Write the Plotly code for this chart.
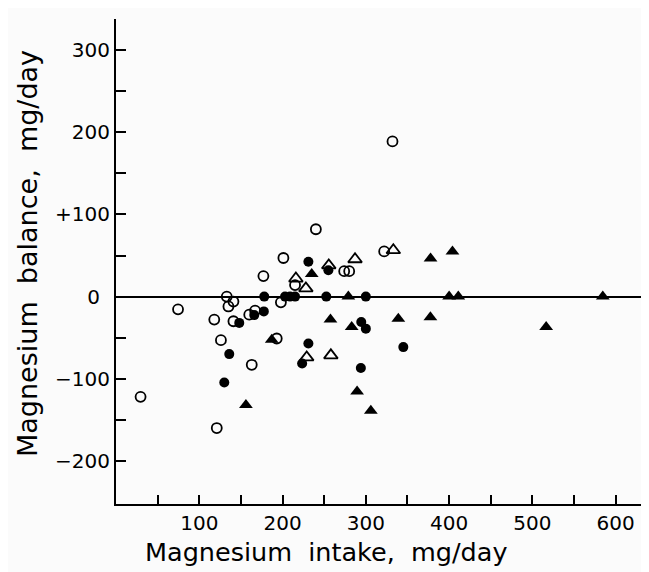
import plotly.graph_objects as go

# Open circles
oc_x = [332, 240, 201, 177, 274, 280, 322, 215, 133, 141, 135, 198, 74.5, 118, 126, 141, 160, 167, 193, 163, 29.5, 121]
oc_y = [189, 82, 47, 25, 31, 31, 55, 14, 0, -6, -12, -7, -15.5, -28, -53, -30, -22, -17, -51, -83, -122, -160]

# Filled circles
fc_x = [231, 255, 178, 203, 209, 215, 252.5, 300, 136, 130, 148, 166, 177.5, 231, 223.5, 294.5, 300, 294, 345]
fc_y = [42.5, 32, 0, 0, 0, 0, 0, 0, -70, -104.5, -32, -22.5, -18, -57, -81.5, -31, -39, -87, -61.5]

# Open triangles
ot_x = [255.5, 216, 228, 287, 333, 229, 258]
ot_y = [38, 22, 10, 45.5, 56.5, -74, -71.5]

# Filled triangles
ft_x = [235, 377.7, 404, 279, 400, 411, 584.5, 156, 187, 257.5, 283, 289.5, 306, 339, 377.5, 516.5]
ft_y = [27.5, 46.5, 55, 0, 0, 0, 0, -132, -52.5, -28, -37, -115.5, -139, -27, -25, -37]

x_tickvals = [50, 100, 150, 200, 250, 300, 350, 400, 450, 500, 550, 600]
x_ticktext = ["", "100", "", "200", "", "300", "", "400", "", "500", "", "600"]
y_tickvals = [-200, -150, -100, -50, 0, 50, 100, 150, 200, 250, 300]
y_ticktext = ["\u2212200", "", "\u2212100", "", "0\u2002", "", "+100", "", "200", "", "300"]

FONT = "DejaVu Sans"

fig = go.Figure()
fig.add_trace(go.Scatter(x=fc_x, y=fc_y, mode="markers",
                         marker=dict(symbol="circle", size=10, color="black")))
fig.add_trace(go.Scatter(x=ft_x, y=ft_y, mode="markers",
                         marker=dict(symbol="triangle-up", size=12, color="black")))
fig.add_trace(go.Scatter(x=oc_x, y=oc_y, mode="markers",
                         marker=dict(symbol="circle-open", size=10, color="black",
                                     line=dict(width=1.8))))
fig.add_trace(go.Scatter(x=ot_x, y=ot_y, mode="markers",
                         marker=dict(symbol="triangle-up-open", size=12, color="black",
                                     line=dict(width=1.8))))

# page has an 8px body margin; figure origin is at (8, 8)
OFF = 8
W, H = 649 - OFF, 572 - OFF
L, R, T, B = 116 - OFF, 0, 19 - OFF, 68
pw = W - L - R
ph = H - T - B

def px_to_paper_x(px):
    return (px - OFF - L) / pw

def px_to_paper_y(py):
    return 1 - (py - OFF - T) / ph

fig.update_layout(
    width=W, height=H,
    margin=dict(l=L, r=R, t=T, b=B),
    paper_bgcolor="#fbfbfb", plot_bgcolor="#fbfbfb",
    showlegend=False,
    font=dict(family=FONT, size=20, color="black"),
    xaxis=dict(range=[0, 640], showline=True, linecolor="black", linewidth=2,
               ticks="inside", ticklen=9, tickwidth=2, tickcolor="black",
               tickvals=x_tickvals, ticktext=x_ticktext, showgrid=False, zeroline=False,
               tickfont=dict(family=FONT, size=20)),
    yaxis=dict(range=[-252.5, 338], showline=True, linecolor="black", linewidth=2,
               ticks="inside", ticklen=10, tickwidth=2, tickcolor="black",
               tickvals=y_tickvals, ticktext=y_ticktext, showgrid=False,
               zeroline=True, zerolinecolor="black", zerolinewidth=2,
               tickfont=dict(family=FONT, size=20)),
    annotations=[
        dict(text="Magnesium  intake,  mg/day", xref="paper", yref="paper",
             x=px_to_paper_x(326), y=px_to_paper_y(552), xanchor="center", yanchor="middle",
             showarrow=False, font=dict(family=FONT, size=25.5)),
        dict(text="Magnesium  balance,  mg/day", xref="paper", yref="paper",
             x=px_to_paper_x(27), y=px_to_paper_y(254), xanchor="center", yanchor="middle",
             textangle=-90, showarrow=False, font=dict(family=FONT, size=27)),
    ],
)

fig.write_html("out.html")
